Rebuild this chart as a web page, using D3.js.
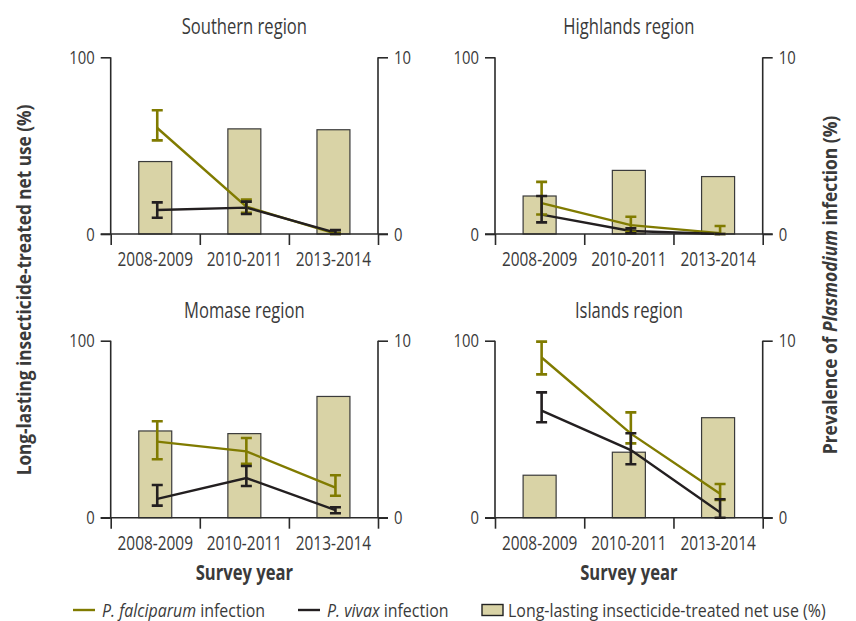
<!DOCTYPE html>
<html>
<head>
<meta charset="utf-8">
<script src="https://cdn.jsdelivr.net/npm/d3@7"></script>
<style>
  html, body { margin: 0; padding: 0; background: #fff; }
  svg { display: block; }
  text { font-family: "Open Sans", "Noto Sans", sans-serif; fill: #3a3a3a; }
</style>
</head>
<body>
<svg id="chart" width="856" height="621"></svg>
<script>
// ---------- data ----------
const years = ["2008-2009", "2010-2011", "2013-2014"];
const regions = ["Southern region", "Highlands region", "Momase region", "Islands region"];
const leftTicks = [0, 100];
const rightTicks = [0, 10];

// Long-lasting insecticide-treated net use (%), per region per survey
const netUse = [
  [41, 59.5, 59],
  [21.5, 36, 32.5],
  [49, 47.5, 68.5],
  [24, 37, 56.5]
];
// P. falciparum prevalence (%) with 95% CI
const falciparum     = [[6.0, 1.55, 0.02], [1.75, 0.5, 0.05], [4.3, 3.75, 1.7], [9.05, 4.75, 1.35]];
const falciparumLow  = [[5.3, 1.2, 0.0],   [1.1, 0.13, 0.0],  [3.3, 3.05, 1.24], [8.1, 4.2, 1.0]];
const falciparumHigh = [[7.0, 1.95, 0.05], [2.95, 0.98, 0.45], [5.45, 4.5, 2.4], [9.95, 5.95, 1.9]];
// P. vivax prevalence (%) with 95% CI
const vivax     = [[1.36, 1.49, 0.08], [1.1, 0.17, 0.0],  [1.06, 2.24, 0.43], [6.05, 3.82, 0.3]];
const vivaxLow  = [[0.92, 1.13, 0.0],  [0.66, 0.04, 0.0], [0.68, 1.79, 0.25], [5.39, 3.02, 0.0]];
const vivaxHigh = [[1.79, 1.83, 0.22], [2.15, 0.32, 0.0], [1.85, 2.92, 0.59], [7.08, 4.77, 1.04]];

// ---------- styles ----------
const olive = "#807b00";
const dark = "#231f20";
const barFill = "#d9d3a6";
const axisColor = "#2a2a2a";

const svg = d3.select("#chart");

// condense text horizontally (reference uses a condensed typeface)
function condense(sel, k) {
  sel.each(function () {
    const w = this.getComputedTextLength();
    d3.select(this).attr("textLength", w * k).attr("lengthAdjust", "spacingAndGlyphs");
  });
}

// mixed-style text: separate text elements in a horizontally scaled group
function richText(parent, parts, opts) {
  const outer = parent.append("g").attr("transform", opts.transform || null);
  const g = outer.append("g").attr("transform", `scale(${opts.k},1)`);
  let xpos = 0;
  const nodes = parts.map(p => {
    const t = g.append("text")
      .attr("x", xpos)
      .attr("y", 0)
      .attr("font-size", opts.size)
      .attr("font-weight", opts.weight || null)
      .attr("font-style", p.italic ? "italic" : null)
      .attr("fill", opts.fill || "#3a3a3a")
      .style("white-space", "pre")
      .text(p.text);
    xpos += t.node().getComputedTextLength();
    return t;
  });
  if (opts.anchor === "middle") {
    nodes.forEach(t => t.attr("x", +t.attr("x") - xpos / 2));
  }
  return outer;
}

// panel frames (plot area)
const cols = [{ left: 110.7, right: 378 }, { left: 495, right: 762.7 }];
const rows = [{ top: 57.3, bottom: 234 }, { top: 340.7, bottom: 517.7 }];

regions.forEach((name, i) => {
  const c = cols[i % 2], r = rows[Math.floor(i / 2)];
  const g = svg.append("g");

  const x = d3.scaleBand().domain(years).range([c.left, c.right])
    .paddingInner(0.63).paddingOuter(0.315);
  const yL = d3.scaleLinear().domain([0, 100]).range([r.bottom, r.top]);
  const yR = d3.scaleLinear().domain([0, 10]).range([r.bottom, r.top]);
  const cx = d => x(d) + x.bandwidth() / 2 + 2;

  // bars
  g.selectAll("rect.bar").data(years).join("rect")
    .attr("class", "bar")
    .attr("x", d => x(d))
    .attr("width", x.bandwidth())
    .attr("y", (d, j) => yL(netUse[i][j]))
    .attr("height", (d, j) => yL(0) - yL(netUse[i][j]))
    .attr("fill", barFill)
    .attr("stroke", "#3a3a3a")
    .attr("stroke-width", 1.2);

  // axes
  const leftAxis = d3.axisLeft(yL).tickValues(leftTicks).tickSize(10).tickPadding(6);
  const ga = g.append("g").attr("transform", `translate(${c.left},0)`).call(leftAxis);
  const rightAxis = d3.axisRight(yR).tickValues(rightTicks).tickSize(10).tickPadding(6);
  const gr = g.append("g").attr("transform", `translate(${c.right},0)`).call(rightAxis);
  const bx = d3.scaleLinear().domain([0, years.length]).range([c.left, c.right]);
  const bottomAxis = d3.axisBottom(bx).tickValues(d3.range(years.length + 1)).tickSize(11).tickFormat("");
  const gb = g.append("g").attr("transform", `translate(0,${r.bottom})`).call(bottomAxis);
  gb.select(".domain").attr("d", `M${c.left - 10},0H${c.right + 10}`);
  [ga, gr].forEach(a => {
    a.select(".domain").attr("d", `M0,${r.top}V${r.bottom}`);
    a.selectAll("text").attr("font-size", 19).attr("fill", "#3a3a3a")
      .attr("font-family", '"Open Sans", sans-serif');
  });
  [ga, gr, gb].forEach(a => {
    a.selectAll(".domain, line").attr("stroke", axisColor).attr("stroke-width", 1.6);
  });
  condense(ga.selectAll("text"), 0.78);
  condense(gr.selectAll("text"), 0.78);

  // year labels
  const yl = g.selectAll("text.year").data(years).join("text")
    .attr("class", "year")
    .attr("x", d => x(d) + x.bandwidth() / 2)
    .attr("y", r.bottom + 32)
    .attr("text-anchor", "middle")
    .attr("font-size", 20)
    .text(d => d);
  condense(yl, 0.77);

  // title
  const tt = g.append("text")
    .attr("x", (c.left + c.right) / 2)
    .attr("y", r.top - 23)
    .attr("text-anchor", "middle")
    .attr("font-size", 21)
    .text(name);
  condense(tt, 0.79);

  // lines
  const series = [
    { v: falciparum[i], lo: falciparumLow[i], hi: falciparumHigh[i], color: olive },
    { v: vivax[i], lo: vivaxLow[i], hi: vivaxHigh[i], color: dark }
  ];
  series.forEach(s => {
    const line = d3.line().x((d, j) => cx(years[j])).y(d => yR(d));
    g.append("path").datum(s.v).attr("d", line)
      .attr("fill", "none").attr("stroke", s.color).attr("stroke-width", 2.4);
  });
  series.forEach(s => {
    const eg = g.append("g");
    years.forEach((yr, j) => {
      const px = cx(yr);
      const yt = yR(s.hi[j]), yb = yR(s.lo[j]);
      eg.append("path")
        .attr("d", `M${px},${yt}V${yb}M${px - 5.5},${yt}H${px + 5.5}M${px - 5.5},${yb}H${px + 5.5}`)
        .attr("fill", "none").attr("stroke", s.color).attr("stroke-width", 2.6);
    });
  });

  // x-axis title on bottom row
  if (Math.floor(i / 2) === 1) {
    const st = g.append("text")
      .attr("x", (c.left + c.right) / 2)
      .attr("y", 580)
      .attr("text-anchor", "middle")
      .attr("font-size", 21)
      .attr("font-weight", "bold")
      .attr("fill", "#222")
      .text("Survey year");
    condense(st, 0.79);
  }
});

// y-axis titles
const lt = svg.append("text")
  .attr("transform", "translate(31,290) rotate(-90)")
  .attr("text-anchor", "middle")
  .attr("font-size", 20)
  .attr("font-weight", "bold")
  .attr("fill", "#222")
  .text("Long-lasting insecticide-treated net use (%)");
condense(lt, 0.86);

richText(svg, [
  { text: "Prevalence of " },
  { text: "Plasmodium", italic: true },
  { text: " infection (%)" }
], { transform: "translate(837,285) rotate(-90)", size: 20, weight: "bold", fill: "#222", k: 0.87, anchor: "middle" });

// legend
const leg = svg.append("g").attr("transform", "translate(0,610)");
const legendItems = [
  { type: "line", color: olive, x: 73, italic: "P. falciparum", rest: " infection" },
  { type: "line", color: dark, x: 298, italic: "P. vivax", rest: " infection" },
  { type: "box", color: barFill, x: 482, italic: "", rest: "Long-lasting insecticide-treated net use (%)" }
];
legendItems.forEach(it => {
  if (it.type === "line") {
    leg.append("line").attr("x1", it.x).attr("x2", it.x + 22).attr("y1", 0).attr("y2", 0)
      .attr("stroke", it.color).attr("stroke-width", 2.4);
  } else {
    leg.append("rect").attr("x", it.x).attr("y", -5.5).attr("width", 21).attr("height", 11)
      .attr("fill", it.color).attr("stroke", "#222").attr("stroke-width", 1.4);
  }
  const parts = [];
  if (it.italic) parts.push({ text: it.italic, italic: true });
  parts.push({ text: it.rest });
  richText(leg, parts, {
    transform: `translate(${it.x + (it.type === "line" ? 29 : 26)},7)`,
    size: 19, k: 0.84
  });
});
</script>
</body>
</html>
